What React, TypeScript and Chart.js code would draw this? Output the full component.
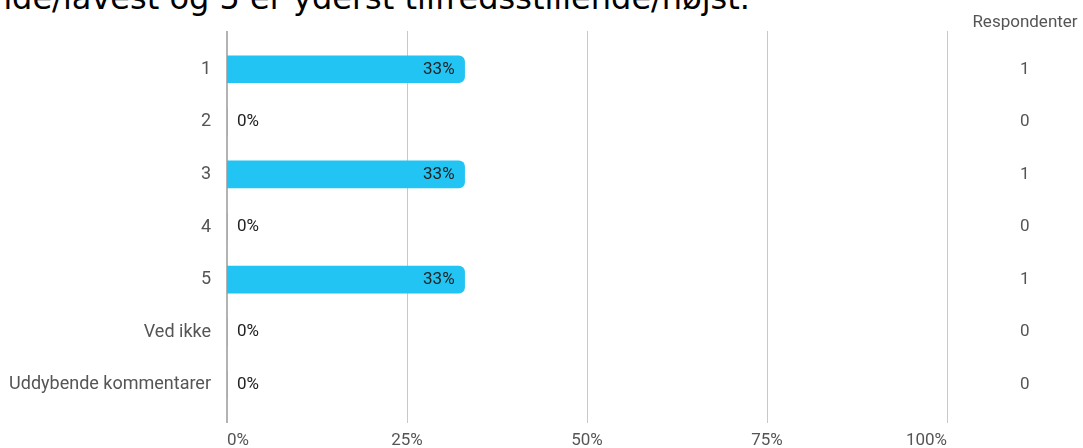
import React, { useEffect, useRef } from "react";
import { Chart, registerables } from "chart.js";

Chart.register(...registerables);

// Survey answers (rating 1-5 plus extras)
const categories = ["1", "2", "3", "4", "5", "Ved ikke", "Uddybende kommentarer"];
const shares = [33, 0, 33, 0, 33, 0, 0];
const respondents = ["1", "0", "1", "0", "1", "0", "0"];
const percentTicks = [0, 25, 50, 75, 100];
const titleText = "nde/lavest og 5 er yderst tilfredsstillende/højst.";
const countHeader = "Respondenter";

const labelFont = { family: "Roboto", size: 17 };
const categoryFont = { family: "Roboto", size: 18 };

// draws the vertical grid lines a little past the category bands, plus labels
const overlayPlugin = {
  id: "overlay",
  beforeDatasetsDraw(chart: any) {
    const { ctx, chartArea, scales } = chart;
    const x = scales.x;
    ctx.save();
    ctx.lineWidth = 1;
    ctx.strokeStyle = "#c8c8c8";
    percentTicks.forEach((t) => {
      if (t === 0) return;
      const px = Math.round(x.getPixelForValue(t)) + 0.5;
      ctx.beginPath();
      ctx.moveTo(px, chartArea.top - 12);
      ctx.lineTo(px, chartArea.bottom + 12);
      ctx.stroke();
    });
    ctx.restore();
  },
  afterDatasetsDraw(chart: any) {
    const { ctx, chartArea, scales } = chart;
    const x = scales.x;
    const y = scales.y;
    ctx.save();
    // y axis line
    ctx.strokeStyle = "#9a9a9a";
    ctx.lineWidth = 1.5;
    const ax = x.getPixelForValue(0);
    ctx.beginPath();
    ctx.moveTo(ax, chartArea.top - 12);
    ctx.lineTo(ax, chartArea.bottom + 12);
    ctx.stroke();

    // value labels
    ctx.font = `${labelFont.size}px ${labelFont.family}`;
    ctx.fillStyle = "#222";
    ctx.textBaseline = "middle";
    shares.forEach((v, i) => {
      const cy = y.getPixelForValue(i);
      const txt = Math.round(v) + "%";
      if (v > 0) {
        ctx.textAlign = "right";
        ctx.fillText(txt, x.getPixelForValue(v) - 10, cy);
      } else {
        ctx.textAlign = "left";
        ctx.fillText(txt, ax + 10, cy);
      }
    });

    // header above the respondent counts
    const y2 = scales.y2;
    ctx.fillStyle = "#555";
    ctx.textAlign = "center";
    ctx.font = `17px Roboto`;
    ctx.fillText(countHeader, y2.left + 78, chartArea.top - 20);
    ctx.restore();
  },
};

const App: React.FC = () => {
  const chartRef = useRef<HTMLCanvasElement>(null);

  useEffect(() => {
    const canvas = chartRef.current;
    if (!canvas) return;
    Chart.getChart(canvas)?.destroy();

    const chart = new Chart(canvas, {
      type: "bar",
      data: {
        labels: categories,
        datasets: [
          {
            label: "Andel",
            data: shares,
            backgroundColor: "#21c4f3",
            barThickness: 27,
            borderRadius: { topLeft: 0, bottomLeft: 0, topRight: 6, bottomRight: 6 },
            borderSkipped: false,
          },
        ],
      },
      options: {
        indexAxis: "y",
        animation: false,
        responsive: false,
        maintainAspectRatio: false,
        layout: { padding: { top: 43, left: 0, right: 0, bottom: 0 } },
        plugins: {
          legend: { display: false },
          tooltip: { enabled: false },
        },
        scales: {
          x: {
            type: "linear",
            min: 0,
            max: 100,
            afterBuildTicks: (scale: any) => {
              scale.ticks = percentTicks.map((v) => ({ value: v }));
            },
            grid: { display: false },
            border: { display: false },
            ticks: {
              align: "inner",
              padding: 12,
              color: "#555",
              font: labelFont,
              callback: (v: any) => v + "%",
            },
            afterFit: (scale: any) => {
              scale.height = 37;
            },
          },
          y: {
            type: "category",
            labels: categories,
            grid: { display: false },
            border: { display: false },
            ticks: { padding: 8, color: "#555", font: categoryFont },
            afterFit: (scale: any) => {
              scale.width = 227;
              scale.paddingTop = 0;
              scale.paddingBottom = 0;
            },
          },
          y2: {
            type: "category",
            position: "right",
            labels: respondents,
            grid: { display: false },
            border: { display: false },
            ticks: { crossAlign: "center", padding: 65, color: "#555", font: labelFont },
            afterFit: (scale: any) => {
              scale.width = 136;
              scale.paddingTop = 0;
              scale.paddingBottom = 0;
            },
          },
        },
      } as any,
      plugins: [overlayPlugin],
    });

    return () => chart.destroy();
  }, []);

  return (
    <div
      style={{
        position: "fixed",
        left: 0,
        top: 0,
        width: 1083,
        height: 448,
        overflow: "hidden",
        background: "#fff",
      }}
    >
      <div
        style={{
          position: "absolute",
          right: 1083 - 750,
          top: -18,
          whiteSpace: "nowrap",
          fontFamily: "'DejaVu Sans'",
          fontSize: 32,
          lineHeight: "32px",
          color: "#000",
        }}
      >
        {titleText}
      </div>
      <canvas
        ref={chartRef}
        width={1083}
        height={448}
        style={{ position: "absolute", left: 0, top: 0 }}
      />
    </div>
  );
};

export default App;
